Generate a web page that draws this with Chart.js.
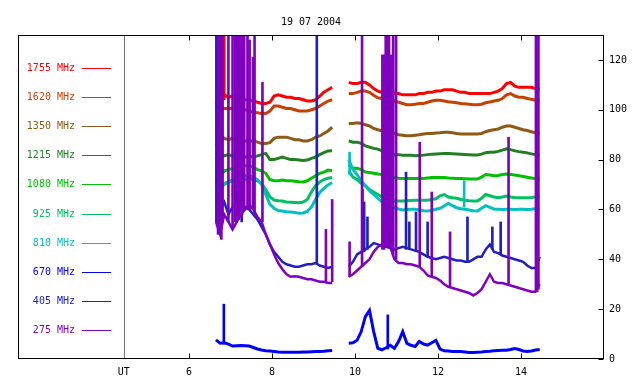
<!DOCTYPE html>
<html lang="en">
<head>
<meta charset="UTF-8">
<title>19 07 2004</title>
<script src="https://cdn.jsdelivr.net/npm/chart.js"></script>
<style>
    body { margin: 0; background: #fff; }
    #wrap { width: 640px; height: 384px; }
</style>
</head>
<body>
<div id="wrap"><canvas id="radio" width="640" height="384"></canvas></div>
<script>
// time grid (UT hours): two observing runs with a break between them
function hourRange(a, n) {
    const out = [];
    for (let i = 0; i < n; i++) out.push(+(a + i * 0.1).toFixed(2));
    return out;
}
const hours = [...hourRange(6.65, 29), 9.65, ...hourRange(9.85, 47)];

const xTicks = [4.43, 6, 8, 10, 12, 14];
const xTickLabels = ['UT', '6', '8', '10', '12', '14'];
const yTicks = [0, 20, 40, 60, 80, 100, 120];

const labels = ['1755 MHz', '1620 MHz', '1350 MHz', '1215 MHz', '1080 MHz', '925 MHz', '810 MHz', '670 MHz', '405 MHz', '275 MHz'];
const colors = ['#ff0000', '#c84000', '#8c5a14', '#208020', '#00c000', '#00c060', '#00c0c0', '#0000ff', '#2020c0', '#8000c0'];

// flux values, one per hour above (null = gap)
const f1755 = [102, 105, 106, 105, 105.5, 105, 104.5, 104, 104, 103.5,
    103, 102.5, 102.5, 103, 105.5, 106, 105.5, 105, 105, 104.5,
    104.5, 104, 103.5, 103.5, 104, 105.5, 107, 108, 109,
    null,
    111, 110.5, 110.5, 111, 111, 110, 108.5, 107.5, 107, 108.5,
    108.5, 106.5, 106.5, 106, 106, 106, 106, 106.5, 106.5, 107,
    107, 107.5, 107.5, 108, 108, 108, 107.5, 107, 107, 106.5,
    106.5, 106.5, 106.5, 106.5, 106.5, 107, 107.5, 108.5, 110.5, 111,
    109.5, 109, 109, 109, 109, 108.5, 108.5];
const f1620 = [98, 100, 100.5, 100.5, 100.5, 100.5, 100, 100, 99.5, 99,
    98.8, 98.5, 98.5, 99.5, 101.5, 101.5, 101, 100.5, 100.5, 100,
    99.5, 99.5, 99.5, 100, 100.5, 101.5, 102.5, 103.5, 104,
    null,
    106.5, 106.5, 107, 107.5, 107.5, 107, 105.8, 104.8, 104.5, 105,
    104.5, 103.5, 103, 102.5, 102, 102, 102.2, 102.5, 102.5, 103,
    103.5, 103.8, 103.8, 103.5, 103.2, 103, 102.8, 102.5, 102.4, 102.2,
    102, 102, 102.2, 102.8, 103.1, 103.5, 103.8, 104.5, 106, 106.5,
    105.5, 105, 105, 104.5, 104.2, 103.8, 103.5];
const f1350 = [85.5, 90, 88.5, 88, 88.5, 88, 88, 87.5, 87.5, 87.5,
    87, 86.5, 86.5, 86.8, 88.5, 89, 89, 89, 88.5, 88,
    88, 87.5, 87.5, 88, 89, 89.5, 90.5, 91.5, 93,
    null,
    94.5, 94.5, 94.8, 94.5, 94, 93.5, 92.5, 92, 91.5, 91.5,
    91.5, 90.5, 90, 89.8, 89.6, 89.6, 89.8, 90, 90.3, 90.5,
    90.5, 90.7, 90.8, 91, 91, 90.8, 90.5, 90.3, 90.3, 90.3,
    90.3, 90.3, 90.5, 91.2, 91.7, 92, 92.3, 93, 93.5, 93.5,
    93, 92.5, 92, 91.7, 91.2, 90.8, 90.5];
const f1215 = [80, 83, 81.5, 82, 81.5, 82, 81.5, 81, 81.5, 81,
    81.5, 82, 82.5, 80, 80, 80.5, 81, 80.5, 80, 80,
    79.8, 79.6, 79.8, 80.5, 81, 82, 82.8, 83.5, 83.6,
    null,
    87.5, 87, 87, 86.5, 85.5, 85, 84.5, 84.2, 83.5, 83,
    82.5, 82, 82, 81.8, 81.8, 81.8, 81.6, 81.7, 81.8, 82,
    82.2, 82.3, 82.4, 82.5, 82.5, 82.4, 82.3, 82.2, 82.1, 82,
    81.9, 81.9, 82.2, 82.8, 83, 83, 83.3, 83.8, 84.3, 84,
    83.5, 83.2, 83, 82.7, 82.3, 82, 81.8];
const f1080 = [70.5, 73, 75.5, 76, 76.5, 77, 76.5, 77.5, 77.5, 77,
    76, 75.5, 74.5, 72, 71.5, 71.5, 71.8, 71.5, 71.5, 71.3,
    71.1, 71, 71.5, 72.5, 73.5, 74.5, 75, 75.8, 75.5,
    null,
    78, 76.5, 76.5, 76, 75, 74.8, 74.5, 74.2, 74, 73.5,
    73.2, 72.8, 72.5, 72.4, 72.4, 72.4, 72.4, 72.5, 72.4, 72.6,
    72.8, 72.8, 72.8, 72.8, 72.6, 72.5, 72.4, 72.4, 72.3, 72.2,
    72.2, 72.2, 73, 74, 73.8, 73.5, 73.6, 74, 74.2, 74,
    73.8, 73.5, 73.2, 72.9, 72.6, 72.3, 72.2];
const f925 = [68, 69.5, 70.5, 71, 71.5, 71.5, 72, 72, 72.5, 72,
    71.5, 70.5, 68, 65, 63.8, 63.5, 63.4, 63, 62.9, 62.8,
    62.7, 63, 64, 67, 69.5, 71, 72, 72.5, 72.8,
    null,
    75.5, 73, 72, 70.5, 69.5, 68, 67, 66, 65, 64.5,
    63.8, 63.4, 63.4, 63.4, 63.5, 63.6, 63.7, 63.7, 63.7, 63.7,
    64, 64.3, 65.5, 66, 65, 64.7, 64.5, 64, 63.7, 63.5,
    63.4, 63.4, 64.5, 66, 65.5, 65, 64.7, 65, 65.4, 65,
    64.8, 64.7, 64.7, 64.7, 64.8, 65, 65.1];
const f810 = [68, 69, 70, 71, 72, 72.5, 73, 73.5, 73.5, 73,
    72, 70, 66, 62, 60.5, 59.6, 59.4, 59.1, 59, 58.8,
    58.5, 58.6, 59.2, 61, 64, 66.8, 68.5, 69.8, 70.8,
    null,
    80, 76, 74, 71.5, 69.5, 67.5, 66, 64.5, 63, 62,
    61.2, 60.7, 60.2, 59.8, 60, 60.1, 60.1, 59.8, 59.5, 59.4,
    59.6, 60.1, 60.5, 61.4, 62.5, 61.5, 60.7, 60.3, 60.1, 59.8,
    59.5, 59.4, 60.5, 61.5, 60.8, 60.2, 60.1, 60, 60.1, 60.1,
    60, 60.1, 60.1, 60, 60.1, 60.3, 60.4];
const f670 = [7.7, 6.3, 6.5, 6, 5.2, 5.3, 5.4, 5.3, 5.2, 4.6,
    4, 3.6, 3.3, 3.2, 3, 2.8, 2.7, 2.7, 2.7, 2.7,
    2.7, 2.8, 2.8, 2.9, 3, 3, 3.1, 3.3, 3.4,
    null,
    6.3, 6.5, 7.5, 11, 17, 19.5, 11, 4.3, 3.7, 4.5,
    5.5, 4.3, 7, 11, 6.3, 5.5, 5, 7, 6, 5.6,
    6.5, 7.5, 4, 3.3, 3.2, 3, 3, 3, 2.8, 2.6,
    2.6, 2.7, 2.8, 3, 3.1, 3.3, 3.4, 3.5, 3.5, 3.8,
    4.2, 3.8, 3.2, 3, 3.2, 3.6, 3.8];
const f405 = [62, 60, 63, 58, 61, 62, 59, 61, 60, 58,
    56, 53, 50, 46, 43, 41, 39, 38, 37.5, 37,
    37, 37.5, 38, 38, 38.5, 37.5, 37, 36.5, 37,
    null,
    37, 39, 42, 43, 44, 45, 46.5, 46, 45.5, 45,
    44.5, 44, 44.5, 45, 44.5, 44, 43.5, 43, 42, 41,
    40.5, 40, 40.5, 41, 40.5, 40, 39.5, 39.5, 39, 39,
    40, 41, 41, 44, 46, 43, 42.5, 41.5, 41, 40.5,
    40, 39.5, 39, 37.5, 36.5, 36.5, 41];
const f275 = [55, 50, 58, 55, 52, 55, 58, 60, 62, 60,
    57, 55, 50, 46, 42, 38.5, 36, 34, 33, 33.2,
    33, 32.5, 32, 32, 31.5, 31, 31, 30.5, 30.5,
    null,
    33, 34, 35.5, 37, 38.5, 40, 43, 45, 46, 47,
    45, 40, 38.5, 38.5, 38, 38, 37.5, 37, 35.5, 33.5,
    33, 32.5, 31.5, 30, 29, 28.5, 28, 27.5, 27, 26.5,
    25.5, 26.5, 28, 31, 34, 31, 30.5, 30.5, 30, 29.5,
    29, 28.5, 28, 27.5, 27, 27, 30];

// short bursts: [hour, low, high]
const spikes1755 = [[6.85, 104, 130]];
const spikes810 = [[9.87, 74, 83], [12.63, 61, 71.5]];
const spikes670 = [[6.84, 6, 22], [10.79, 4, 17.7]];
const spikes405 = [[6.66, 55, 130], [6.69, 55, 130], [7.27, 55, 100], [9.08, 38, 130],
    [10.18, 43, 68], [10.22, 43, 63], [10.3, 44, 57], [11.23, 44, 75], [11.31, 44, 55],
    [11.47, 43, 59], [11.75, 41, 55], [12.71, 39, 57], [13.31, 44, 53], [13.51, 42, 55], [14.38, 36, 89]];
const spikes275 = [[6.7, 50, 130], [6.74, 52, 130], [6.78, 48, 130], [6.81, 55, 130],
    [6.95, 55, 130], [7.05, 52, 130], [7.11, 55, 130], [7.15, 55, 130], [7.2, 56, 130],
    [7.24, 58, 130], [7.28, 58, 130], [7.33, 60, 130], [7.41, 60, 130], [7.46, 60, 128],
    [7.54, 60, 121], [7.58, 58, 130], [7.77, 55, 111], [9.3, 31, 52], [9.45, 31, 64],
    [9.87, 33, 47], [10.17, 37, 130], [10.66, 44, 122], [10.7, 44, 122], [10.74, 45, 130],
    [10.78, 45, 130], [10.82, 45, 130], [10.87, 44, 122], [10.92, 42, 130], [10.99, 40, 130],
    [11.56, 37, 87], [11.85, 33, 67], [12.29, 29, 51], [13.7, 30, 89],
    [14.36, 27, 130], [14.39, 27, 130], [14.42, 28, 130]];

const values = [f1755, f1620, f1350, f1215, f1080, f925, f810, f670, f405, f275];
const spikes = [spikes1755, [], [], [], [], [], spikes810, spikes670, spikes405, spikes275];

const FONT = '10px "DejaVu Sans Mono", monospace';

const datasets = [];
values.forEach((vals, i) => {
    datasets.push({
        type: 'line',
        label: labels[i],
        data: hours.map((h, k) => ({ x: h, y: vals[k] })),
        borderColor: colors[i],
        borderWidth: i >= 8 ? 2.5 : 3,
        pointRadius: 0,
        tension: 0,
        spanGaps: false,
        order: 9 - i
    });
    if (spikes[i].length) {
        datasets.push({
            type: 'bar',
            label: labels[i] + ' bursts',
            data: spikes[i].map(s => ({ x: s[0], y: [s[1], s[2]] })),
            backgroundColor: colors[i],
            borderWidth: 0,
            barThickness: 2,
            grouped: false,
            order: 9 - i
        });
    }
});

// frame, inward ticks, UT line, title and left legend
const gnuplotFrame = {
    id: 'gnuplotFrame',
    beforeDatasetsDraw(chart) {
        const { ctx, chartArea: a, scales } = chart;
        const ux = Math.round(scales.x.getPixelForValue(xTicks[0])) + 0.5;
        ctx.save();
        ctx.strokeStyle = '#707070';
        ctx.lineWidth = 1;
        ctx.beginPath();
        ctx.moveTo(ux, a.top);
        ctx.lineTo(ux, a.bottom);
        ctx.stroke();
        ctx.restore();
    },
    afterDatasetsDraw(chart) {
        const { ctx, chartArea: a, scales } = chart;
        ctx.save();
        ctx.strokeStyle = '#000';
        ctx.lineWidth = 1;
        const l = Math.round(a.left) + 0.5, r = Math.round(a.right) - 0.5;
        const t = Math.round(a.top) + 0.5, b = Math.round(a.bottom) - 0.5;
        ctx.strokeRect(l, t, r - l, b - t);
        ctx.beginPath();
        xTicks.slice(1).forEach(v => {
            const x = Math.round(scales.x.getPixelForValue(v)) + 0.5;
            ctx.moveTo(x, t); ctx.lineTo(x, t + 5);
            ctx.moveTo(x, b); ctx.lineTo(x, b - 5);
        });
        yTicks.forEach(v => {
            const y = Math.round(scales.y.getPixelForValue(v)) + 0.5;
            ctx.moveTo(r, y); ctx.lineTo(r - 5, y);
        });
        ctx.stroke();

        ctx.font = FONT;
        ctx.textBaseline = 'middle';
        ctx.fillStyle = '#000';
        ctx.textAlign = 'center';
        ctx.fillText('19 07 2004', (a.left + a.right) / 2, 22);

        labels.forEach((lab, i) => {
            const y = Math.round(67.5 + i * 29.2) + 0.5;
            ctx.fillStyle = colors[i];
            ctx.textAlign = 'right';
            ctx.fillText(lab, 75, y);
            ctx.strokeStyle = colors[i];
            ctx.beginPath();
            ctx.moveTo(82, y);
            ctx.lineTo(111, y);
            ctx.stroke();
        });
        ctx.restore();
    }
};

new Chart(document.getElementById('radio'), {
    type: 'line',
    data: { datasets },
    options: {
        responsive: false,
        devicePixelRatio: 1,
        animation: false,
        layout: { padding: { left: 18, top: 35, right: 0, bottom: 0 } },
        plugins: {
            legend: { display: false },
            title: { display: false },
            tooltip: { enabled: false }
        },
        scales: {
            x: {
                type: 'linear',
                min: 1.88,
                max: 16,
                offset: false,
                grid: { display: false, drawTicks: false },
                border: { display: false },
                afterFit: s => { s.height = 25; },
                afterBuildTicks: s => { s.ticks = xTicks.map(v => ({ value: v })); },
                ticks: {
                    autoSkip: false,
                    maxRotation: 0,
                    padding: 7,
                    color: '#000',
                    font: { family: '"DejaVu Sans Mono", monospace', size: 10 },
                    callback: (v, i) => xTickLabels[i]
                }
            },
            y: {
                type: 'linear',
                position: 'right',
                min: 0,
                max: 130,
                grid: { display: false, drawTicks: false },
                border: { display: false },
                afterFit: s => { s.width = 36; },
                afterBuildTicks: s => { s.ticks = yTicks.map(v => ({ value: v })); },
                ticks: {
                    padding: 5,
                    color: '#000',
                    font: { family: '"DejaVu Sans Mono", monospace', size: 10 }
                }
            }
        }
    },
    plugins: [gnuplotFrame]
});
</script>
</body>
</html>
